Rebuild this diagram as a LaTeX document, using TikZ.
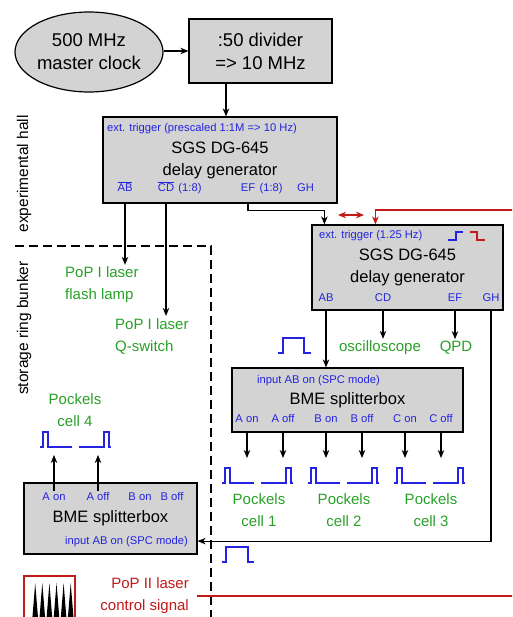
\documentclass[tikz,border=0pt]{standalone}
\usepackage{fontspec}
\setmainfont{Liberation Sans}
\usetikzlibrary{shapes.geometric,arrows.meta,positioning}

\definecolor{mgray}{RGB}{211,211,211}
\definecolor{mblue}{RGB}{35,35,225}
\definecolor{mgreen}{RGB}{40,160,40}
\definecolor{mred}{RGB}{195,25,25}
\newcommand*{\colBox}{mgray}
\newcommand*{\colPort}{mblue}
\newcommand*{\colTarget}{mgreen}
\newcommand*{\colPop}{mred}
\newcommand*{\fBig}{\fontsize{18.5}{23}\selectfont}
\newcommand*{\fTitle}{\fontsize{16.5}{22}\selectfont}
\newcommand*{\fTarget}{\fontsize{15}{22}\selectfont}
\newcommand*{\fSide}{\fontsize{15.5}{18}\selectfont}
\newcommand*{\fPort}{\fontsize{11.2}{13}\selectfont}
\newcommand*{\ovl}[1]{\sbox0{#1}\rlap{\rule[\dimexpr\ht0+1.3pt\relax]{\wd0}{0.7pt}}\usebox0}
\newcommand*{\pulseH}{15}

\begin{document}
\begin{tikzpicture}[x=1pt, y=-1pt, >={Stealth[length=8pt,width=6.5pt,inset=2.5pt]},
    box/.style={rectangle, draw, fill=\colBox, line width=1.2pt, align=center, font=\fTitle, inner sep=0pt},
    port/.style={font=\fPort, text=\colPort, inner sep=1pt},
    target/.style={font=\fTarget, text=\colTarget, inner sep=2pt},
    side/.style={font=\fSide, rotate=90, inner sep=1pt},
    link/.style={draw, ->, line width=1.1pt},
    pulse/.style={draw=\colPort, line width=1.1pt},
    popline/.style={draw=\colPop, line width=1.1pt},
    border/.style={draw, line width=2.4pt, dash pattern=on 9pt off 5pt}]

    \clip (0,0) rectangle (512,617);

    \node [box, ellipse, minimum width=148pt, minimum height=80pt, font=\fBig] (clock) at (89,52) {500 MHz\\master clock};
    \node [box, minimum width=143pt, minimum height=64pt, font=\fBig] (divider) at (260.5,51) {:50 divider\\=> 10 MHz};
    \node [box, minimum width=234pt, minimum height=86pt] (dgA) at (220,160) {SGS DG-645\\delay generator};
    \node [box, minimum width=191pt, minimum height=85pt] (dgB) at (407.5,267.5) {SGS DG-645\\delay generator};
    \node [box, minimum width=231pt, minimum height=64pt] (bmeA) at (347.5,400) {BME splitterbox};
    \node [box, minimum width=173pt, minimum height=71pt] (bmeB) at (110.5,518.5) {BME splitterbox};

    \node [port, anchor=base west] (dgA-trig) at (106,132) {ext. trigger (prescaled 1:1M => 10 Hz)};
    \node [port, anchor=base] (dgA-AB) at (125,192) {\ovl{AB}};
    \node [port, anchor=base] (dgA-CD) at (166,192) {\ovl{CD}};
    \node [port, anchor=base west] (dgA-CDdiv) at ([xshift=2pt]dgA-CD.base east) {(1:8)};
    \node [port, anchor=base] (dgA-EF) at (248,192) {EF};
    \node [port, anchor=base west] (dgA-EFdiv) at ([xshift=2pt]dgA-EF.base east) {(1:8)};
    \node [port, anchor=base] (dgA-GH) at (305.5,192) {GH};

    \node [port, anchor=base west] (dgB-trig) at (318,239) {ext. trigger (1.25 Hz)};
    \foreach \x/\n in {326/AB, 383/CD, 455/EF, 491/GH} {
        \node [port, anchor=base] (dgB-\n) at (\x,301) {\n};
    }

    \node [port, anchor=base] (bmeA-in) at (318.5,383) {input AB on (SPC mode)};
    \foreach \x/\n/\t in {247/Aon/A on, 283/Aoff/A off, 326/Bon/B on, 362/Boff/B off, 405/Con/C on, 441/Coff/C off} {
        \node [port, anchor=base] (bmeA-\n) at (\x,422) {\t};
    }

    \node [port, anchor=base east] (bmeB-in) at (189,544) {input AB on (SPC mode)};
    \foreach \x/\n/\t in {54/Aon/A on, 98/Aoff/A off, 140/Bon/B on, 172/Boff/B off} {
        \node [port, anchor=base] (bmeB-\n) at (\x,500) {\t};
    }

    \node [target, align=left, anchor=west] (lampA) at (63,285) {PoP I laser\\flash lamp};
    \node [target, align=left, anchor=west] (qswitch) at (113,336) {PoP I laser\\Q-switch};
    \node [target] (scope) at (380,348) {oscilloscope};
    \node [target] (qpd) at (456,348) {QPD};
    \node [target, align=center] (pcA) at (259,510) {Pockels\\cell 1};
    \node [target, align=center] (pcB) at (344,510) {Pockels\\cell 2};
    \node [target, align=center] (pcC) at (431,510) {Pockels\\cell 3};
    \node [target, align=center] (pcD) at (75,410) {Pockels\\cell 4};
    \node [target, text=\colPop, align=right, anchor=east] (popII) at (191,596) {PoP II laser\\control signal};

    \node [side] (hall) at (24,174) {experimental hall};
    \node [side] (bunker) at (24,328) {storage ring bunker};

    \coordinate (edgeR) at (520,210);
    \coordinate (swapL) at (338,215);
    \coordinate (swapR) at (364,215);
    \coordinate (tipA) at (0,458);
    \coordinate (tipB) at (0,455);

    \path [link] (clock.east |- divider) -- (divider.west);
    \path [link] (divider.south -| 226,0) -- (dgA.north -| 226,0);
    \path [link] (dgA-AB |- dgA.south) -- (dgA-AB |- lampA.north);
    \path [link] (dgA-CD |- dgA.south) -- (dgA-CD |- qswitch.north);
    \path [link] (dgA-EF |- dgA.south) -- ++(0,7) -| ([xshift=13pt]dgB.north west);
    \path [popline, ->] (edgeR) -| ([xshift=64pt]dgB.north west);
    \path [popline, <->] (swapL) -- (swapR);

    \path [link] (dgB-AB |- dgB.south) -- (dgB-AB |- bmeA.north);
    \path [link] (dgB-CD |- dgB.south) -- (dgB-CD |- scope.north);
    \path [link] (dgB-EF |- dgB.south) -- (dgB-EF |- qpd.north);
    \path [link] (dgB-GH |- dgB.south) |- (bmeB-in -| bmeB.east);

    \foreach \n in {Aon,Aoff,Bon,Boff,Con,Coff} {
        \path [link] (bmeA-\n |- bmeA.south) -- (bmeA-\n |- tipA);
    }
    \foreach \n in {Aon,Aoff} {
        \path [link] (bmeB-\n.north) -- (bmeB-\n |- tipB);
    }

    \begin{scope}
        \foreach \x/\y in {222/483, 308/483, 394/483, 40/447} {
            \draw [pulse] (\x,\y) -- ++(3,0) -- ++(0,-\pulseH) -- ++(5,0) -- ++(0,\pulseH) -- ++(24,0);
            \draw [pulse] (\x+39,\y) -- ++(25,0) -- ++(0,-\pulseH) -- ++(5,0) -- ++(0,\pulseH) -- ++(2,0);
        }
    \end{scope}

    \draw [pulse] (278,353) -- ++(5,0) -- ++(0,-\pulseH) -- ++(21,0) -- ++(0,\pulseH) -- ++(7,0);
    \draw [pulse] (222,562) -- ++(4,0) -- ++(0,-\pulseH) -- ++(22,0) -- ++(0,\pulseH) -- ++(6,0);
    \draw [pulse] (448,240) -- ++(8,0) -- ++(0,-8) -- ++(7,0);
    \draw [popline] (470,232) -- ++(7,0) -- ++(0,8) -- ++(8,0);

    \draw [border] (15,246) -| (211,630);

    \draw [popline] ([xshift=6pt]popII.east) -- (popII.east -| edgeR);
    \draw [popline] (24,576) rectangle (75,640);
    \begin{scope}
        \foreach \i in {0,...,5} {
            \fill ({35.2+7.1*\i-3.4},625) -- ({35.2+7.1*\i},583) -- ({35.2+7.1*\i+3.4},625) -- cycle;
        }
    \end{scope}

\end{tikzpicture}
\end{document}
